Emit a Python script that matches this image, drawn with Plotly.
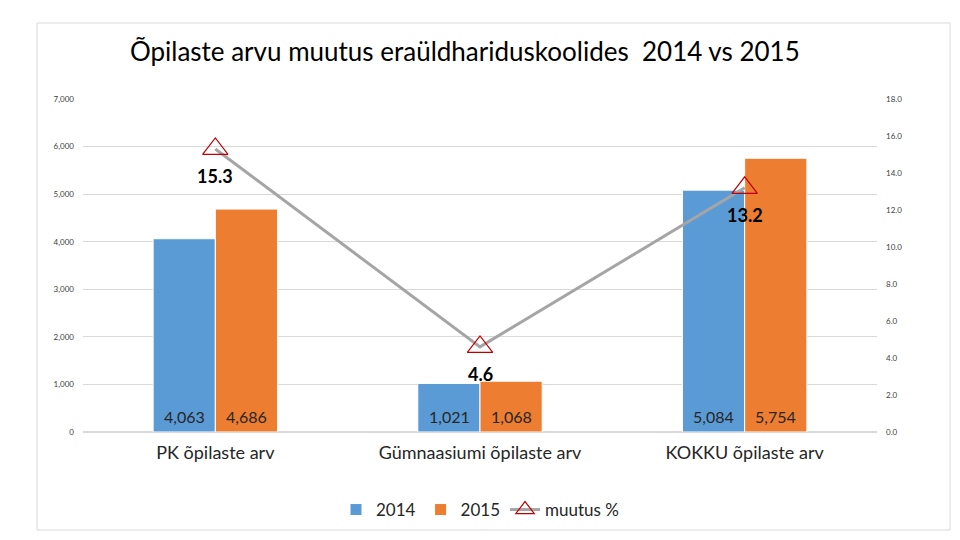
import plotly.graph_objects as go

categories = ["PK õpilaste arv", "Gümnaasiumi õpilaste arv", "KOKKU õpilaste arv"]
values_2014 = [4063, 1021, 5084]
values_2015 = [4686, 1068, 5754]
change_pct = [15.3, 4.6, 13.2]

# page has an 8px body margin; work in page coordinates and convert
OFF = 8
W, H = 952, 532
L, T = 83 - OFF, 99 - OFF
R = W - (877 - OFF)
B = H - (432 - OFF)
pw, ph = W - L - R, H - T - B

def px(xpage):
    return (xpage - OFF - L) / pw

def py(ypage):
    return (H - B - (ypage - OFF)) / ph

font_txt = "Lato, 'Open Sans', sans-serif"

fig = go.Figure()
fig.add_trace(go.Bar(
    name="2014", x=categories, y=values_2014,
    marker=dict(color="#5B9BD5", line=dict(color="white", width=1)),
    yaxis="y",
))
fig.add_trace(go.Bar(
    name="2015", x=categories, y=values_2015,
    marker=dict(color="#ED7D31", line=dict(color="white", width=1)),
    yaxis="y",
))
fig.add_trace(go.Scatter(
    name="muutus %", x=categories, y=change_pct, yaxis="y2",
    mode="lines+markers",
    line=dict(color="#A5A5A5", width=3),
    marker=dict(symbol="triangle-up-open", size=22, color="#C00000", line=dict(width=1.2)),
))

annotations = []
for cat, v14, v15 in zip(categories, values_2014, values_2015):
    for val, dx in ((v14, -31), (v15, 31)):
        annotations.append(dict(
            x=cat, y=0, xref="x", yref="y", xshift=dx, yshift=4,
            yanchor="bottom", xanchor="center", showarrow=False,
            text=f"{val:,}", font=dict(size=16, color="#262626", family=font_txt)))
for cat, v in zip(categories, change_pct):
    annotations.append(dict(
        x=cat, y=v, xref="x", yref="y2", yshift=-27,
        yanchor="middle", xanchor="center", showarrow=False,
        text=f"<b>{v:.1f}</b>", font=dict(size=18, color="#000000", family=font_txt)))

fig.update_layout(
    width=W, height=H,
    margin=dict(l=L, r=R, t=T, b=B),
    paper_bgcolor="white", plot_bgcolor="white",
    barmode="group", bargap=0.53, bargroupgap=0.0,
    title=dict(text="Õpilaste arvu muutus eraüldhariduskoolides  2014 vs 2015",
               x=px(464), xanchor="center", y=(H - (52 - OFF)) / H, yanchor="middle",
               font=dict(size=26, color="#000000", family=font_txt)),
    xaxis=dict(showgrid=False, showline=False, ticks="",
               tickfont=dict(size=18, color="#262626", family=font_txt),
               ticklabelstandoff=8),
    yaxis=dict(range=[0, 7000], dtick=1000, tickformat=",",
               showgrid=True, gridcolor="#D9D9D9", gridwidth=1,
               zeroline=True, zerolinecolor="#D9D9D9",
               tickfont=dict(size=8, color="#404040", family=font_txt), ticks="",
               ticklabelstandoff=8),
    yaxis2=dict(range=[0, 18], tickvals=[0, 2, 4, 6, 8, 10, 12, 14, 16, 18],
                tickformat=".1f", overlaying="y", side="right", showgrid=False,
                zeroline=False,
                tickfont=dict(size=8, color="#404040", family=font_txt), ticks="",
                ticklabelstandoff=8),
    legend=dict(orientation="h", x=0.5, xanchor="center", y=py(510), yanchor="middle",
                font=dict(size=17, color="#262626", family=font_txt),
                itemwidth=30, traceorder="normal"),
    annotations=annotations,
    shapes=[dict(type="rect", xref="paper", yref="paper",
                 x0=px(37), x1=px(950), y0=py(530), y1=py(23),
                 line=dict(color="#D9D9D9", width=1), fillcolor="rgba(0,0,0,0)",
                 layer="below")],
)

fig.write_html("out.html")
